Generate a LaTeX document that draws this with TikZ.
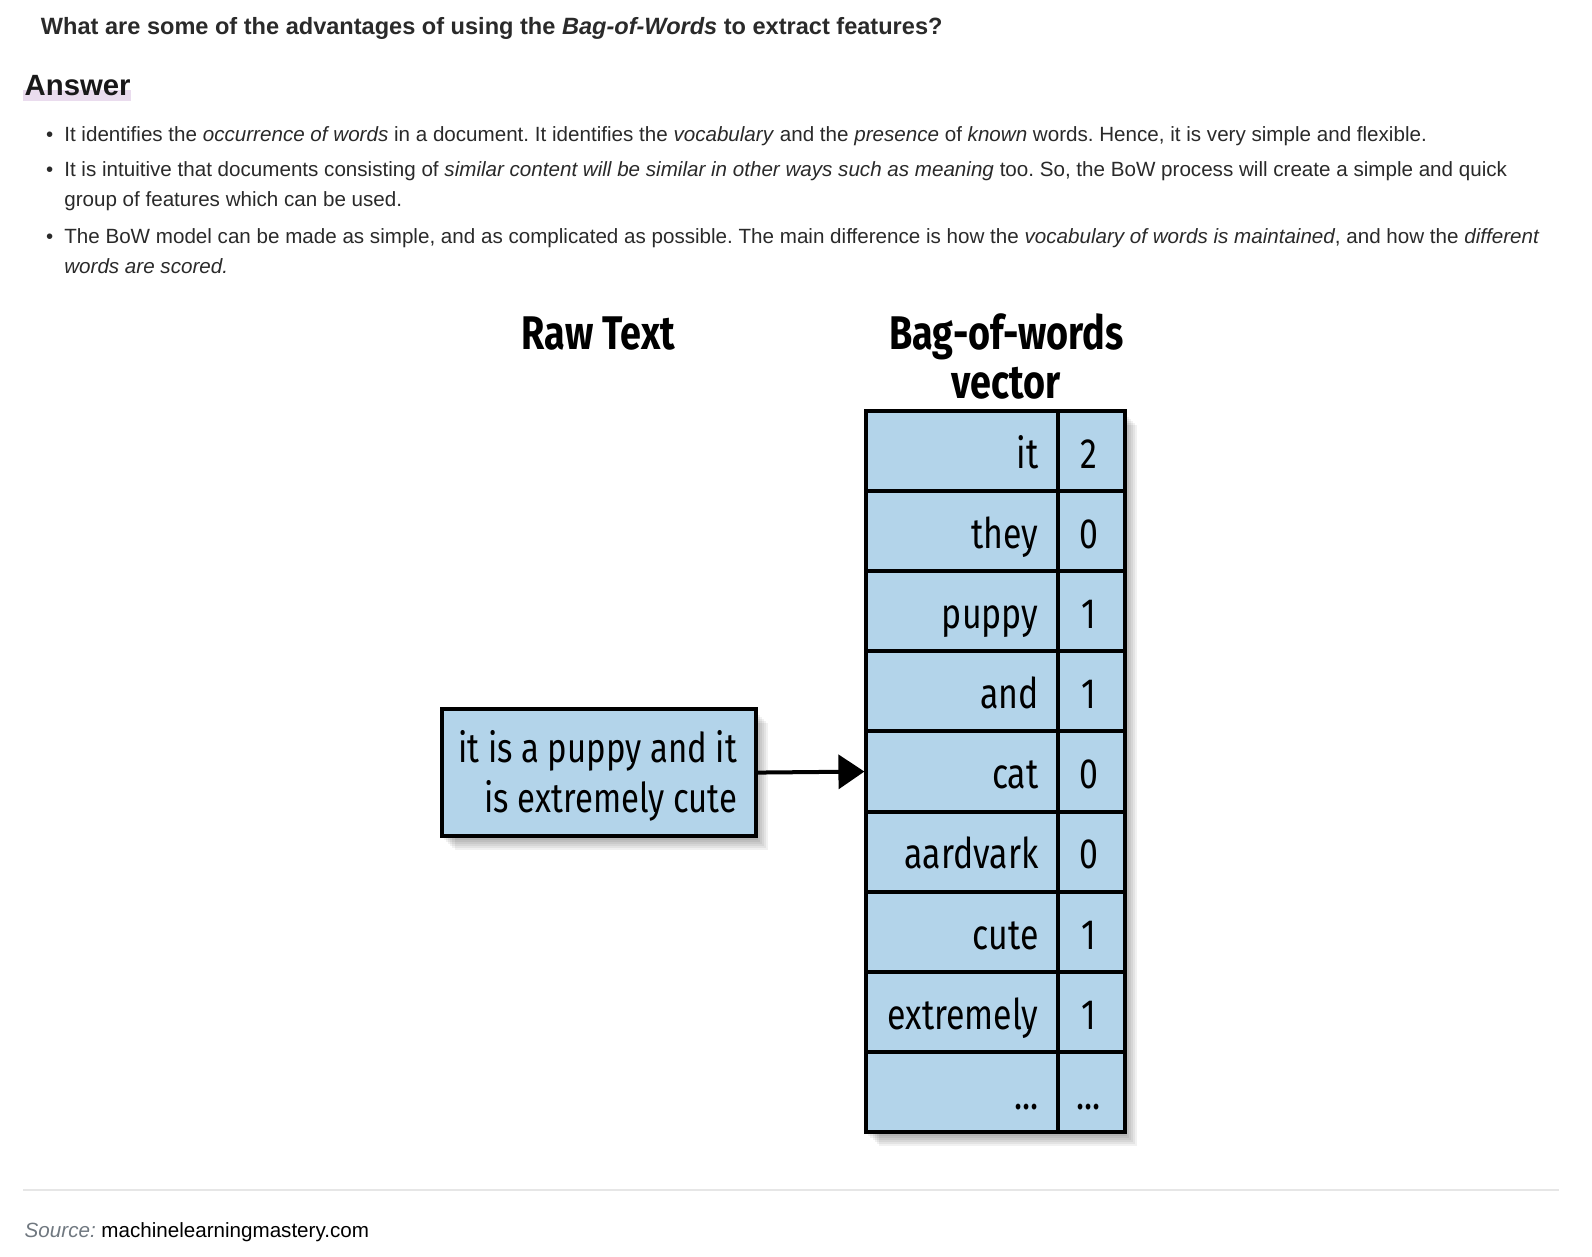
\documentclass[tikz,border=0pt]{standalone}
\usepackage{fontspec}
\setmainfont{Liberation Sans}
\newfontfamily\dfont[FakeStretch=0.8]{Fira Sans}
\usetikzlibrary{arrows.meta}
\definecolor{bodytxt}{HTML}{2A2A2A}
\definecolor{cellblue}{HTML}{B3D4EA}
\definecolor{hilite}{HTML}{EADCEE}
\definecolor{rulegray}{HTML}{E6E6E6}
\definecolor{srcgray}{HTML}{707880}
\newcommand\mydots{...}
\newdimen\U \U=0.50725pt
\frenchspacing
\tikzset{
  body/.style={anchor=base west, inner sep=0pt, text=bodytxt, font=\fontsize{10.3pt}{12pt}\selectfont},
  bul/.style={anchor=base, inner sep=0pt, text=bodytxt, font=\fontsize{10.2pt}{12pt}\selectfont},
  cell/.style={draw=black, line width=2pt, fill=cellblue, inner sep=0pt},
  dtxt/.style={inner sep=0pt, text=black, font=\dfont\fontsize{21.15pt}{24pt}\selectfont},
  btxt/.style={inner sep=0pt, text=black, font=\dfont\fontsize{20.55pt}{24pt}\selectfont},
  dhead/.style={inner sep=0pt, text=black, font=\dfont\bfseries\fontsize{23.6pt}{25pt}\selectfont},
  shad/.style={fill=black, fill opacity=0.055, draw=none},
}
\begin{document}
\begin{tikzpicture}[x=\U,y=-\U]
\useasboundingbox (0,0) rectangle (1569.2,1238.1);
\fill[white] (0,0) rectangle (1569.2,1238.1);
% title
\node[body, font=\bfseries\fontsize{11.78pt}{13pt}\selectfont] (title) at (40,34) {What are some of the advantages of using the \textit{Bag-of-Words} to extract features?};
% answer heading
\fill[hilite] (23,89) rectangle (129,100);
\node[body, font=\bfseries\fontsize{14.65pt}{16pt}\selectfont, text=black!90] (answer) at (24,94) {Answer};
% bullets
\node[bul] (b1) at (49,139) {•};
\node[body] (l1) at (63,139) {It identifies the \textit{occurrence of words} in a document. It identifies the \textit{vocabulary} and the \textit{presence} of \textit{known} words. Hence, it is very simple and flexible.};
\node[bul] (b2) at (49,174) {•};
\node[body] (l2) at (63,174) {It is intuitive that documents consisting of \textit{similar content will be similar in other ways such as meaning} too. So, the BoW process will create a simple and quick};
\node[body] (l3) at (63,204) {group of features which can be used.};
\node[bul] (b3) at (49,240) {•};
\node[body] (l4) at (63,240) {The BoW model can be made as simple, and as complicated as possible. The main difference is how the \textit{vocabulary of words is maintained}, and how the \textit{different}};
\node[body] (l5) at (63,270) {\textit{words are scored.}};
% headings
\node[dhead, anchor=base] (raw) at (590,344) {Raw Text};
\node[dhead, anchor=base] (bow1) at (992,344) {Bag-of-words};
\node[dhead, anchor=base] (bow2) at (992,393) {vector};
% shadows (soft, to the lower right)
\foreach \e in {2,4,6,8,10,12}{
  \fill[shad] (436+\e,699+2+\e) rectangle (745+\e,824+2+\e);
  \fill[shad] (854+\e,405+2+\e) rectangle (1109+\e,1116+2+\e);
}
% raw text box
\node[cell, minimum width=309\U, minimum height=125\U] (box) at (590.5,761.5) {};
\node[btxt, anchor=base east] (bt1) at (727,752) {it is a puppy and it};
\node[btxt, anchor=base east] (bt2) at (727,801) {is extremely cute};
% table
\foreach \w/\n [count=\i] in {it/2,they/0,puppy/1,and/1,cat/0,aardvark/0,cute/1,extremely/1,\mydots/\mydots}{
  \pgfmathsetmacro{\yc}{405+79*(\i-0.5)}
  \node[cell, minimum width=189\U, minimum height=79\U] (w\i) at (948.5,\yc) {};
  \node[cell, minimum width=66\U, minimum height=79\U] (n\i) at (1076,\yc) {};
  \node[dtxt, anchor=base east] (wt\i) at (1024,\yc+17) {\w};
  \node[dtxt, anchor=base] (nt\i) at (1073,\yc+17) {\n};
}
% arrow
\draw[line width=2pt, -{Triangle[length=13pt,width=17pt]}] (box.east) -- (w5.west);
% rule and source
\draw[rulegray, line width=1pt] (23,1173) -- (1537,1173);
\node[body] (src) at (24,1220) {\textcolor{srcgray}{\textit{Source:}} \textcolor{black}{machinelearningmastery.com}};
\end{tikzpicture}
\end{document}
